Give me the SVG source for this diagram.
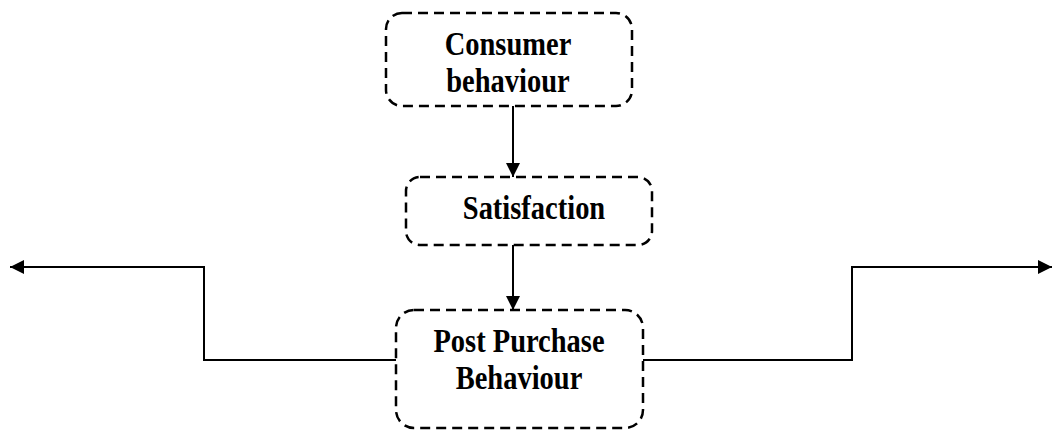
<svg xmlns="http://www.w3.org/2000/svg" width="1053" height="435" viewBox="0 0 1053 435">
<style>
.box{fill:none;stroke:#000;stroke-width:2.5;stroke-dasharray:10 6}
.t{font-family:"Liberation Serif","Times New Roman",serif;font-weight:bold;font-size:28.5px;text-anchor:middle;fill:#000}
.c{fill:none;stroke:#000;stroke-width:2}
</style>
<defs>
<marker id="ah" viewBox="0 0 10 10" refX="10" refY="5" markerWidth="15" markerHeight="14" markerUnits="userSpaceOnUse" orient="auto">
<path d="M0,0 L10,5 L0,10 Z" fill="#000"/>
</marker>
</defs>
<g id="n1"><rect class="box" x="386" y="13" width="246" height="93" rx="16"/>
<text class="t" transform="translate(508,55) scale(1,1.18)">Consumer</text><text class="t" transform="translate(508,92) scale(1,1.18)">behaviour</text></g>
<g id="n2"><rect class="box" x="406" y="177" width="246" height="68" rx="14"/>
<text class="t" transform="translate(534,219) scale(1,1.18)">Satisfaction</text></g>
<g id="n3"><rect class="box" x="396" y="310" width="247" height="118" rx="18"/>
<text class="t" transform="translate(519,352) scale(1,1.18)">Post Purchase</text><text class="t" transform="translate(519,389) scale(1,1.18)">Behaviour</text></g>
<g id="connectors">
<path class="c" d="M513,106 V177" marker-end="url(#ah)"/>
<path class="c" d="M513,245 V310" marker-end="url(#ah)"/>
<path class="c" d="M396,360 H204 V267 H10" marker-end="url(#ah)"/>
<path class="c" d="M643,360 H852 V267 H1052" marker-end="url(#ah)"/>
</g>
</svg>
